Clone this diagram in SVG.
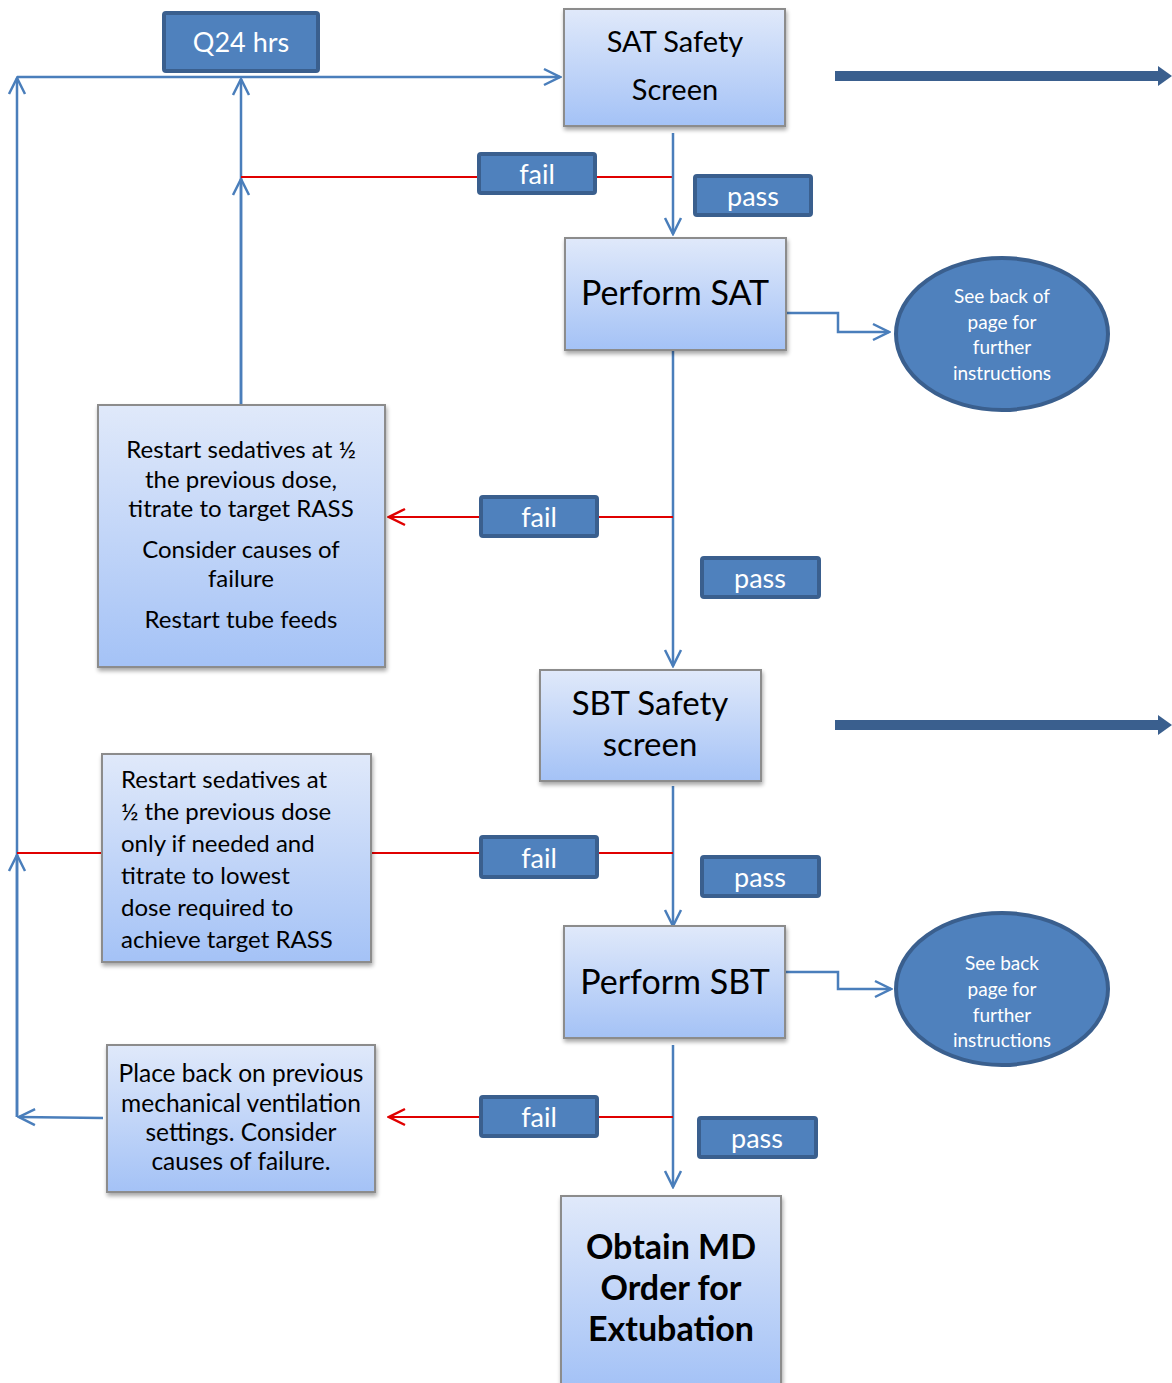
<svg xmlns="http://www.w3.org/2000/svg" width="1172" height="1383" viewBox="0 0 1172 1383">
<style>
text{font-family:Lato,"Open Sans","Liberation Sans",sans-serif;text-anchor:middle}
.box{fill:url(#g);stroke:#8c8c8c;stroke-width:2;filter:url(#sh)}
.lab{fill:#4f81bd;stroke:#3a5f8e;stroke-width:4}
.lt{fill:#fff;font-size:27px}
.bt{fill:#000}
.bl{fill:none;stroke:#4a7ebb;stroke-width:2.5}
.rd{fill:none;stroke:#e00000;stroke-width:2.2}
.ell{fill:#4f81bd;stroke:#3a5f8e;stroke-width:4}
.et{fill:#fff;font-size:19px}
.big{fill:none;stroke:#3a5f8e;stroke-width:10}
</style>
<defs>
<linearGradient id="g" x1="0" y1="0" x2="0" y2="1"><stop offset="0" stop-color="#e0e9fa"/><stop offset="1" stop-color="#a4c2f6"/></linearGradient>
<filter id="sh" x="-10%" y="-10%" width="120%" height="120%"><feGaussianBlur in="SourceAlpha" stdDeviation="2"/><feOffset dx="1" dy="3"/><feComponentTransfer><feFuncA type="linear" slope="0.35"/></feComponentTransfer><feMerge><feMergeNode/><feMergeNode in="SourceGraphic"/></feMerge></filter>
<marker id="ab" viewBox="0 0 20 20" refX="18" refY="10" markerWidth="20" markerHeight="20" markerUnits="userSpaceOnUse" orient="auto"><path d="M2,2 L18,10 L2,18" fill="none" stroke="#4a7ebb" stroke-width="2.5"/></marker>
<marker id="ar" viewBox="0 0 20 20" refX="18" refY="10" markerWidth="20" markerHeight="20" markerUnits="userSpaceOnUse" orient="auto"><path d="M2,2 L18,10 L2,18" fill="none" stroke="#e00000" stroke-width="2.5"/></marker>
</defs>
<g id="connectors">
<path class="bl" d="M17,1117 L17,78" marker-end="url(#ab)"/>
<path class="bl" d="M17,1117 L17,855" marker-end="url(#ab)"/>
<path class="bl" d="M17,77 L560,77" marker-end="url(#ab)"/>
<path class="bl" d="M241,409 L241,79" marker-end="url(#ab)"/>
<path class="bl" d="M241,409 L241,179" marker-end="url(#ab)"/>
<path class="rd" d="M241,177 L673,177"/>
<path class="bl" d="M673,133 L673,234" marker-end="url(#ab)"/>
<path class="bl" d="M784,313 L838,313 L838,332 L889,332" marker-end="url(#ab)"/>
<path class="bl" d="M673,350 L673,666" marker-end="url(#ab)"/>
<path class="rd" d="M673,517 L389,517" marker-end="url(#ar)"/>
<path class="bl" d="M673,786 L673,926" marker-end="url(#ab)"/>
<path class="rd" d="M17,853 L673,853"/>
<path class="bl" d="M783,972 L838,972 L838,989 L891,989" marker-end="url(#ab)"/>
<path class="bl" d="M673,1045 L673,1187" marker-end="url(#ab)"/>
<path class="rd" d="M673,1117 L389,1117" marker-end="url(#ar)"/>
<path class="bl" d="M103,1118 L19,1117" marker-end="url(#ab)"/>
<path class="big" d="M835,76 L1160,76"/>
<path d="M1158,66 L1172,76 L1158,86 Z" fill="#3a5f8e"/>
<path class="big" d="M835,725 L1160,725"/>
<path d="M1158,715 L1172,725 L1158,735 Z" fill="#3a5f8e"/>
</g>
<g id="q24"><rect class="lab" x="164" y="13" width="154" height="58" rx="2"/><text class="lt" x="241" y="52">Q24 hrs</text></g>
<g id="sat-screen"><rect class="box" x="564" y="9" width="221" height="117"/><text class="bt" x="675" y="52" font-size="29">SAT Safety</text><text class="bt" x="675" y="100" font-size="29">Screen</text></g>
<g id="fail1"><rect class="lab" x="479" y="154" width="116" height="39" rx="2"/><text class="lt" x="537" y="184">fail</text></g>
<g id="pass1"><rect class="lab" x="695" y="176" width="116" height="39" rx="2"/><text class="lt" x="753" y="206">pass</text></g>
<g id="perform-sat"><rect class="box" x="565" y="238" width="221" height="112"/><text class="bt" x="675" y="305" font-size="34">Perform SAT</text></g>
<g id="note1"><ellipse class="ell" cx="1002" cy="334" rx="106" ry="76"/><text class="et" x="1002" y="303">See back of</text><text class="et" x="1002" y="329">page for</text><text class="et" x="1002" y="354">further</text><text class="et" x="1002" y="380">instructions</text></g>
<g id="restart1"><rect class="box" x="98" y="405" width="287" height="262"/>
<text class="bt" font-size="24"><tspan x="241" y="458">Restart sedatives at ½</tspan><tspan x="241" y="488">the previous dose,</tspan><tspan x="241" y="517">titrate to target RASS</tspan><tspan x="241" y="558">Consider causes of</tspan><tspan x="241" y="587">failure</tspan><tspan x="241" y="628">Restart tube feeds</tspan></text></g>
<g id="fail2"><rect class="lab" x="481" y="497" width="116" height="39" rx="2"/><text class="lt" x="539" y="527">fail</text></g>
<g id="pass2"><rect class="lab" x="702" y="558" width="117" height="39" rx="2"/><text class="lt" x="760" y="588">pass</text></g>
<g id="sbt-screen"><rect class="box" x="540" y="670" width="221" height="111"/><text class="bt" x="650" y="715" font-size="33">SBT Safety</text><text class="bt" x="650" y="756" font-size="33">screen</text></g>
<g id="restart2"><rect class="box" x="102" y="754" width="269" height="208"/>
<text class="bt" font-size="24" style="text-anchor:start"><tspan x="121" y="788">Restart sedatives at</tspan><tspan x="121" y="820">½ the previous dose</tspan><tspan x="121" y="852">only if needed and</tspan><tspan x="121" y="884">titrate to lowest</tspan><tspan x="121" y="916">dose required to</tspan><tspan x="121" y="948">achieve target RASS</tspan></text></g>
<g id="fail3"><rect class="lab" x="481" y="837" width="116" height="40" rx="2"/><text class="lt" x="539" y="868">fail</text></g>
<g id="pass3"><rect class="lab" x="702" y="857" width="117" height="39" rx="2"/><text class="lt" x="760" y="887">pass</text></g>
<g id="perform-sbt"><rect class="box" x="564" y="926" width="221" height="112"/><text class="bt" x="675" y="994" font-size="34">Perform SBT</text></g>
<g id="note2"><ellipse class="ell" cx="1002" cy="989" rx="106" ry="76"/><text class="et" x="1002" y="970">See  back</text><text class="et" x="1002" y="996">page for</text><text class="et" x="1002" y="1022">further</text><text class="et" x="1002" y="1047">instructions</text></g>
<g id="place-back"><rect class="box" x="107" y="1045" width="268" height="147"/>
<text class="bt" font-size="24.5"><tspan x="241" y="1082">Place back on previous</tspan><tspan x="241" y="1112">mechanical ventilation</tspan><tspan x="241" y="1141">settings. Consider</tspan><tspan x="241" y="1170">causes of failure.</tspan></text></g>
<g id="fail4"><rect class="lab" x="481" y="1097" width="116" height="39" rx="2"/><text class="lt" x="539" y="1127">fail</text></g>
<g id="pass4"><rect class="lab" x="699" y="1118" width="117" height="39" rx="2"/><text class="lt" x="757" y="1148">pass</text></g>
<g id="obtain-md"><rect class="box" x="561" y="1196" width="220" height="190"/>
<text class="bt" font-size="34" font-weight="bold"><tspan x="671" y="1259">Obtain MD</tspan><tspan x="671" y="1300">Order for</tspan><tspan x="671" y="1341">Extubation</tspan></text></g>
</svg>
